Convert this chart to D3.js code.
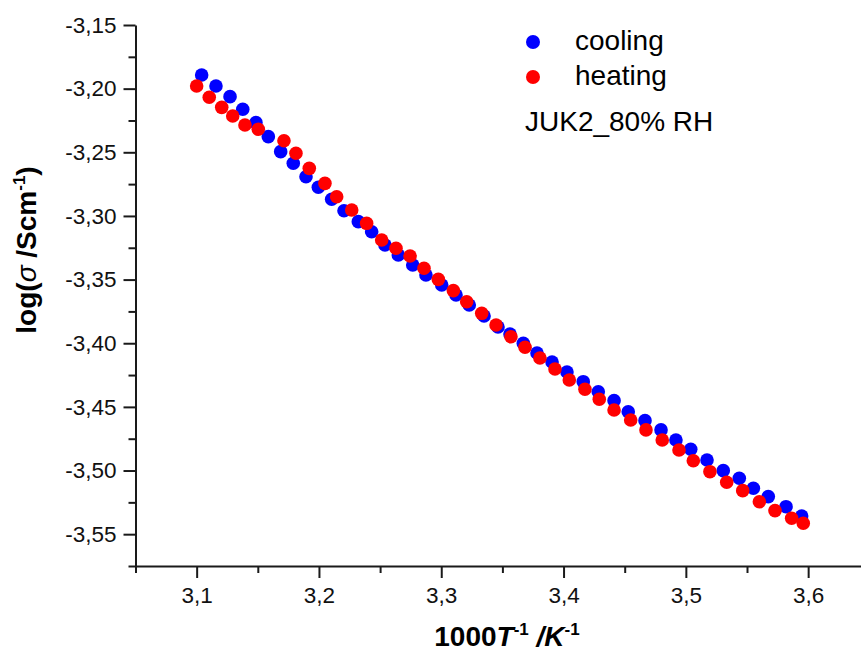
<!DOCTYPE html>
<html lang="en">
<head>
    <meta charset="UTF-8">
    <style>
        body { margin: 0; background: #fff; }
        text { font-family: Arial, "Liberation Sans", sans-serif; }
        .axis path, .axis line { stroke: #1a1a1a; stroke-width: 2px; }
        .axis text { font-size: 22.5px; fill: #111; }
    </style>
    <title>log sigma vs 1000/T</title>
</head>
<body>
<script src="https://d3js.org/d3.v7.min.js" charset="utf-8"></script>
<script>
    // cooling run (blue)
    var coolX = [3.1041, 3.1158, 3.1273, 3.1377, 3.1485, 3.1586, 3.1687, 3.1790, 3.1894, 3.1995,
        3.2104, 3.2205, 3.2322, 3.2431, 3.2540, 3.2649, 3.2767, 3.2875, 3.3004, 3.3121,
        3.3229, 3.3350, 3.3464, 3.3562, 3.3671, 3.3783, 3.3906, 3.4028, 3.4161, 3.4284,
        3.4413, 3.4529, 3.4666, 3.4797, 3.4919, 3.5040, 3.5173, 3.5306, 3.5437, 3.5552,
        3.5674, 3.5819, 3.5947];
    var coolY = [-3.1893, -3.1979, -3.2063, -3.2162, -3.2267, -3.2377, -3.2495, -3.2586, -3.2692, -3.2775,
        -3.2869, -3.2959, -3.3045, -3.3124, -3.3228, -3.3307, -3.3385, -3.3464, -3.3542, -3.3621,
        -3.3700, -3.3786, -3.3872, -3.3927, -3.4000, -3.4077, -3.4147, -3.4226, -3.4302, -3.4381,
        -3.4451, -3.4538, -3.4608, -3.4681, -3.4760, -3.4833, -3.4917, -3.5001, -3.5061, -3.5139,
        -3.5205, -3.5284, -3.5357];

    // heating run (red)
    var heatX = [3.1000, 3.1103, 3.1205, 3.1295, 3.1395, 3.1504, 3.1714, 3.1812, 3.1921, 3.2049,
        3.2145, 3.2268, 3.2390, 3.2513, 3.2630, 3.2745, 3.2859, 3.2976, 3.3099, 3.3208,
        3.3331, 3.3448, 3.3570, 3.3685, 3.3807, 3.3930, 3.4047, 3.4175, 3.4292, 3.4413,
        3.4549, 3.4674, 3.4807, 3.4944, 3.5061, 3.5197, 3.5334, 3.5465, 3.5601, 3.5729,
        3.5865, 3.5960];
    var heatY = [-3.1979, -3.2068, -3.2147, -3.2215, -3.2286, -3.2319, -3.2409, -3.2508, -3.2626, -3.2744,
        -3.2849, -3.2953, -3.3058, -3.3189, -3.3254, -3.3315, -3.3411, -3.3498, -3.3587, -3.3674,
        -3.3765, -3.3857, -3.3949, -3.4032, -3.4116, -3.4202, -3.4289, -3.4362, -3.4440, -3.4524,
        -3.4603, -3.4681, -3.4760, -3.4839, -3.4923, -3.5009, -3.5092, -3.5158, -3.5245, -3.5315,
        -3.5375, -3.5414];

    var xTicks = [3.1, 3.2, 3.3, 3.4, 3.5, 3.6];
    var xMinor = [3.05, 3.15, 3.25, 3.35, 3.45, 3.55, 3.65];
    var yTicks = [-3.15, -3.20, -3.25, -3.30, -3.35, -3.40, -3.45, -3.50, -3.55];
    var yMinor = [-3.175, -3.225, -3.275, -3.325, -3.375, -3.425, -3.475, -3.525, -3.575];

    var seriesNames = ['cooling', 'heating'];
    var seriesColors = ['#0000ff', '#ff0000'];
    var note = 'JUK2_80% RH';

    var width = 861, height = 651;

    var svg = d3.select('body').append('svg')
        .attr('width', width).attr('height', height);

    var x = d3.scaleLinear().domain([3.05, 3.65]).range([135.5, 869.3]);
    var y = d3.scaleLinear().domain([-3.575, -3.15]).range([566, 25]);

    var locale = d3.formatLocale({decimal: ',', thousands: '.', grouping: [3], currency: ['', '']});

    // minor ticks first, then major axes
    svg.append('g').attr('class', 'axis')
        .attr('transform', 'translate(0,566)')
        .call(d3.axisBottom(x).tickValues(xMinor).tickSize(7).tickFormat(''))
        .select('.domain').remove();
    svg.append('g').attr('class', 'axis')
        .attr('transform', 'translate(135.5,0)')
        .call(d3.axisLeft(y).tickValues(yMinor).tickSize(7).tickFormat(''))
        .select('.domain').remove();

    svg.append('g').attr('class', 'axis')
        .attr('transform', 'translate(0,566)')
        .call(d3.axisBottom(x).tickValues(xTicks).tickSize(12).tickSizeOuter(0)
            .tickPadding(9).tickFormat(locale.format('.1f')));

    var yAxis = svg.append('g').attr('class', 'axis')
        .attr('transform', 'translate(135.5,0)')
        .call(d3.axisLeft(y).tickValues(yTicks).tickSize(12).tickSizeOuter(0)
            .tickPadding(7).tickFormat(locale.format('.2f')));
    yAxis.selectAll('text').text(function (d) { return locale.format('.2f')(d).replace('−', '-'); });

    // points
    var cool = coolX.map(function (v, i) { return [v, coolY[i]]; });
    var heat = heatX.map(function (v, i) { return [v, heatY[i]]; });

    svg.append('g').selectAll('circle')
        .data(cool).enter().append('circle')
        .attr('cx', function (d) { return x(d[0]); })
        .attr('cy', function (d) { return y(d[1]); })
        .attr('r', 6.8)
        .attr('fill', seriesColors[0]);

    svg.append('g').selectAll('circle')
        .data(heat).enter().append('circle')
        .attr('cx', function (d) { return x(d[0]); })
        .attr('cy', function (d) { return y(d[1]); })
        .attr('r', 6.8)
        .attr('fill', seriesColors[1]);

    // legend
    var legend = svg.append('g');
    seriesNames.forEach(function (name, i) {
        legend.append('circle')
            .attr('cx', 533).attr('cy', 42 + i * 35)
            .attr('r', 7).attr('fill', seriesColors[i]);
        legend.append('text')
            .attr('x', 575).attr('y', 50 + i * 35)
            .style('font-size', '28px')
            .text(name);
    });
    legend.append('text')
        .attr('x', 525).attr('y', 131)
        .style('font-size', '28px')
        .text(note);

    // axis titles
    var xt = svg.append('text')
        .attr('x', 507).attr('y', 646)
        .attr('text-anchor', 'middle')
        .style('font-size', '28px').style('font-weight', 'bold');
    xt.append('tspan').text('1000');
    xt.append('tspan').style('font-style', 'italic').text('T');
    xt.append('tspan').attr('dy', -11).style('font-size', '17px').text('-1');
    xt.append('tspan').attr('dy', 11).text(' ');
    xt.append('tspan').style('font-style', 'italic').text('/K');
    xt.append('tspan').attr('dy', -11).style('font-size', '17px').text('-1');

    var yt = svg.append('text')
        .attr('transform', 'translate(36,250) rotate(-90)')
        .attr('text-anchor', 'middle')
        .style('font-size', '28px').style('font-weight', 'bold');
    yt.append('tspan').text('log(');
    yt.append('tspan').style('font-style', 'italic').style('font-weight', 'normal').text('σ');
    yt.append('tspan').text(' /Scm');
    yt.append('tspan').attr('dy', -11).style('font-size', '17px').text('-1');
    yt.append('tspan').attr('dy', 11).text(')');
</script>
</body>
</html>
